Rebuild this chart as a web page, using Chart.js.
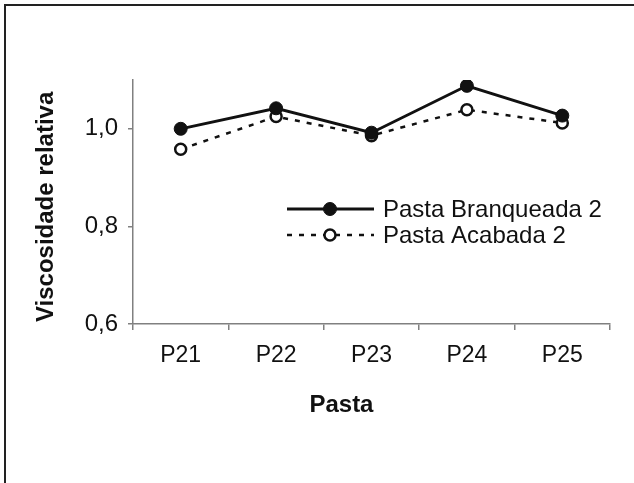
<!DOCTYPE html>
<html>
<head>
<meta charset="utf-8">
<script src="https://cdn.jsdelivr.net/npm/chart.js@4/dist/chart.umd.min.js"></script>
<style>
  body { margin: 0; background: #fff; }
  #wrap { position: relative; width: 634px; height: 483px; }
  #frame { position: absolute; left: 4px; top: 4px; right: 0; bottom: 0;
           border-top: 2px solid #222; border-left: 2px solid #222; pointer-events: none; }
  canvas { position: absolute; left: 0; top: 0; }
</style>
</head>
<body>
<div id="wrap">
  <canvas id="chart" width="634" height="483"></canvas>
  <div id="frame"></div>
</div>
<script>
// Chart data
const categories = ['P21', 'P22', 'P23', 'P24', 'P25'];
const branqueada = [1.000, 1.042, 0.992, 1.088, 1.027];
const acabada = [0.958, 1.025, 0.986, 1.039, 1.012];
const seriesNames = ['Pasta Branqueada 2', 'Pasta Acabada 2'];
const yMin = 0.6;
const yMax = 1.1;
const yStep = 0.2;

const FONT = "'Liberation Sans', Arial, sans-serif";
const INK = '#111';
const AXIS = '#808080';

// titles + legend drawn inside the plot, like the original
const extras = {
    id: 'extras',
    afterDraw(chart) {
        const ctx = chart.ctx;
        const a = chart.chartArea;
        ctx.save();
        ctx.fillStyle = INK;
        ctx.font = 'bold 24px ' + FONT;
        ctx.textAlign = 'center';
        ctx.textBaseline = 'middle';
        // x title
        ctx.fillText('Pasta', a.left + a.width * 0.437, 405);
        // y title
        ctx.translate(46, a.top + a.height * 0.52);
        ctx.rotate(-Math.PI / 2);
        ctx.fillText('Viscosidade relativa', 0, 0);
        ctx.restore();

        // legend
        const lx = a.left + 154, rows = [209, 235];
        chart.data.datasets.forEach((ds, i) => {
            const y = rows[i];
            ctx.save();
            ctx.strokeStyle = INK;
            ctx.lineWidth = ds.borderWidth;
            ctx.setLineDash(ds.borderDash || []);
            ctx.beginPath();
            ctx.moveTo(lx, y);
            ctx.lineTo(lx + 87, y);
            ctx.stroke();
            ctx.setLineDash([]);
            ctx.beginPath();
            ctx.arc(lx + 43, y, ds.pointRadius, 0, Math.PI * 2);
            ctx.fillStyle = ds.pointBackgroundColor;
            ctx.fill();
            ctx.lineWidth = ds.pointBorderWidth;
            ctx.stroke();
            ctx.fillStyle = INK;
            ctx.font = '24px ' + FONT;
            ctx.textAlign = 'left';
            ctx.textBaseline = 'middle';
            ctx.fillText(ds.label, lx + 96, y + 1);
            ctx.restore();
        });
    }
};

new Chart(document.getElementById('chart'), {
    type: 'line',
    data: {
        labels: categories,
        datasets: [{
            label: seriesNames[0],
            data: branqueada,
            borderColor: INK,
            borderWidth: 2.8,
            pointRadius: 6.5,
            pointBackgroundColor: INK,
            pointBorderColor: INK,
            pointBorderWidth: 1,
            tension: 0
        }, {
            label: seriesNames[1],
            data: acabada,
            borderColor: INK,
            borderWidth: 2.5,
            borderDash: [5, 7],
            pointRadius: 5.5,
            pointBackgroundColor: '#fff',
            pointBorderColor: INK,
            pointBorderWidth: 2.5,
            tension: 0
        }]
    },
    options: {
        responsive: false,
        animation: false,
        layout: { padding: { top: 80, right: 24, left: 0, bottom: 0 } },
        plugins: {
            legend: { display: false },
            tooltip: { enabled: false }
        },
        scales: {
            x: {
                offset: true,
                grid: { offset: true, drawOnChartArea: false, drawTicks: true, tickLength: 6, color: AXIS, lineWidth: 1.5 },
                border: { display: true, color: AXIS, width: 1.5 },
                ticks: { color: INK, font: { family: FONT, size: 23 }, padding: 12, maxRotation: 0 },
                afterFit: s => { s.height = 159; }
            },
            y: {
                min: yMin,
                max: yMax,
                ticks: {
                    stepSize: yStep,
                    color: INK,
                    font: { family: FONT, size: 24 },
                    padding: 10,
                    callback: v => v.toFixed(1).replace('.', ',')
                },
                afterBuildTicks: s => {
                    s.ticks = s.ticks.filter(t => Math.abs(t.value / yStep - Math.round(t.value / yStep)) < 1e-6);
                },
                grid: { drawOnChartArea: false, drawTicks: true, tickLength: 5, color: AXIS, lineWidth: 1.5 },
                border: { display: true, color: AXIS, width: 1.5 },
                afterFit: s => { s.width = 133; }
            }
        }
    },
    plugins: [extras]
});
</script>
</body>
</html>
